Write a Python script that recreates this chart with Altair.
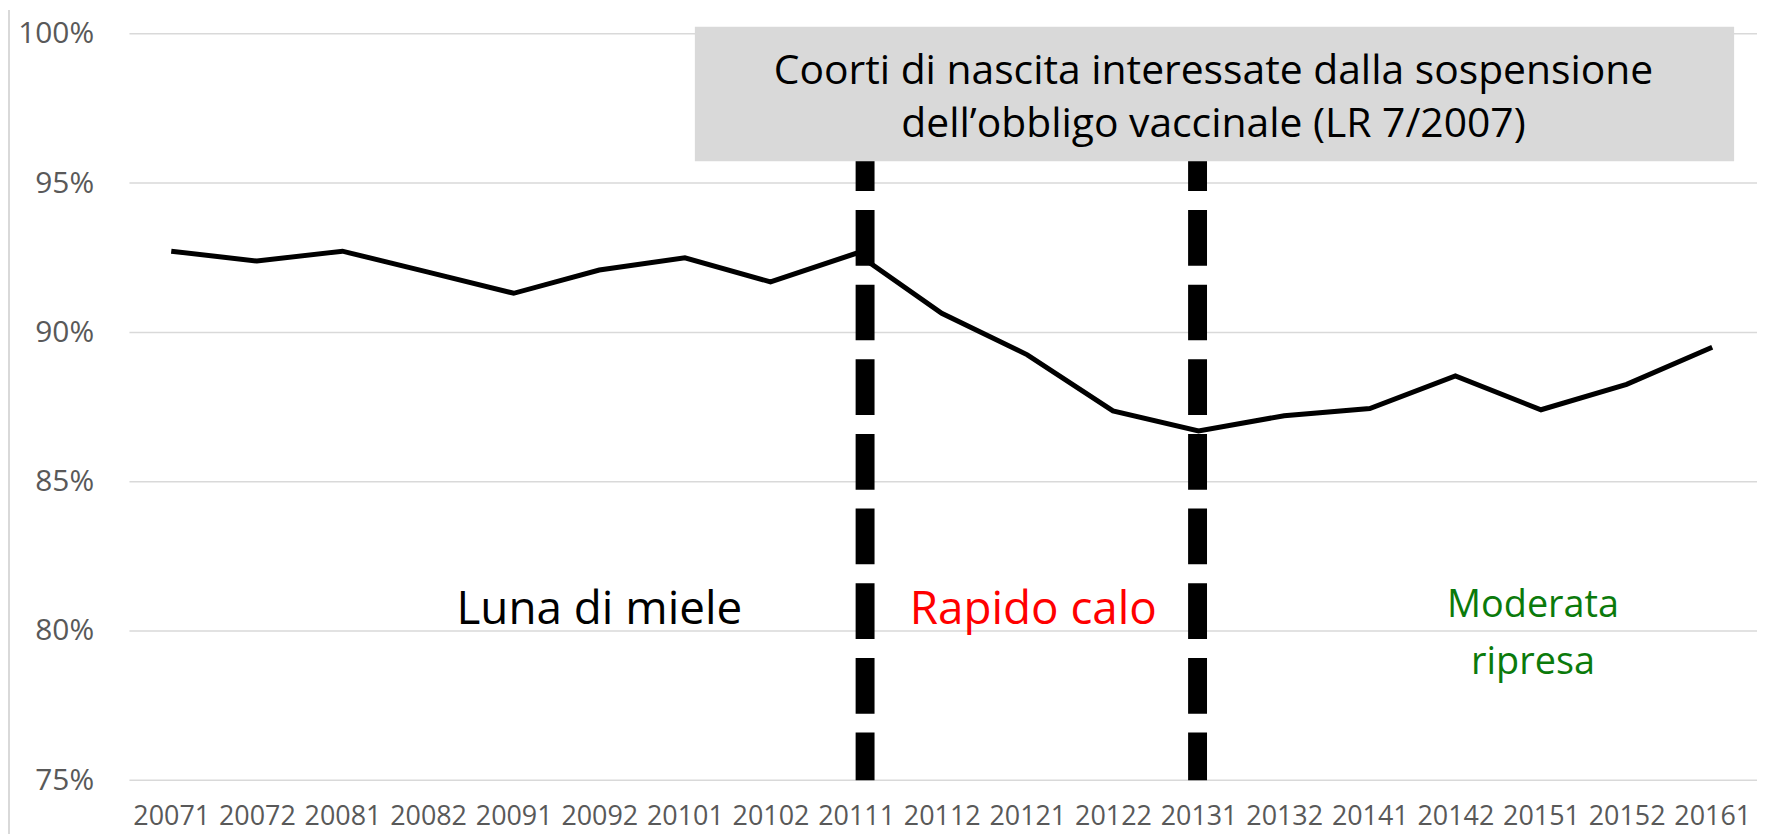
import altair as alt
import pandas as pd

# ---- data ----
periods = ["20071", "20072", "20081", "20082", "20091", "20092", "20101", "20102",
           "20111", "20112", "20121", "20122", "20131", "20132", "20141", "20142",
           "20151", "20152", "20161"]
coverage = [92.72, 92.39, 92.72, 92.02, 91.31, 92.09, 92.50, 91.69, 92.65, 90.64,
            89.25, 87.37, 86.70, 87.21, 87.45, 88.54, 87.41, 88.26, 89.50]

break_periods = ["20111", "20131"]
break_top = [100, 100]
break_bottom = [75, 75]

phase_text = ["Luna di miele", "Rapido calo", "Moderata\nripresa"]
phase_period = ["20092", "20121", "20151"]
phase_y = [80.22, 80.22, 80.47]

box_text = ["Coorti di nascita interessate dalla sospensione\ndell\u2019obbligo vaccinale (LR 7/2007)"]

y_ticks = [75, 80, 85, 90, 95, 100]

FONT = "Open Sans"
W, H = 1635, 750

line_df = pd.DataFrame({"period": periods, "value": coverage})
break_df = pd.DataFrame({"period": break_periods, "top": break_top, "bottom": break_bottom})
phase_df = pd.DataFrame({"period": phase_period, "y": phase_y, "label": phase_text})
box_df = pd.DataFrame({"label": box_text})
tick_df = pd.DataFrame({"tick": y_ticks})

xscale = alt.Scale(type="point", domain=periods, range=[42, 1590], padding=0)
yscale = alt.Scale(domain=[75, 100], nice=False, zero=False)


def X():
    return alt.X("period:O", scale=xscale, sort=periods,
                 axis=alt.Axis(title=None, labelAngle=0, domain=False, ticks=False,
                               grid=False, labelPadding=23, labelFontSize=27,
                               labelFont=FONT, labelColor="#595959"))


yaxis = alt.Axis(title=None, values=y_ticks, labelExpr="datum.value + '%'",
                 domain=False, ticks=False, grid=False, labelPadding=36,
                 labelFontSize=30, labelFont=FONT, labelColor="#595959")

grid = alt.Chart(tick_df).mark_rule(color="#d9d9d9", strokeWidth=1.5).encode(
    y=alt.Y("tick:Q", scale=yscale, axis=yaxis),
    x=alt.value(0), x2=alt.value(W),
)

border = alt.Chart(box_df).mark_rule(color="#d9d9d9", strokeWidth=2).encode(
    x=alt.value(-121), y=alt.value(-24), y2=alt.value(H + 54)
)

rule_offsets = [9, -1]
rule_layers = []
for i in range(len(break_periods)):
    rule_layers.append(
        alt.Chart(break_df.iloc[[i]]).mark_rule(
            color="black", strokeWidth=19, strokeDash=[56, 19], strokeDashOffset=48
        ).encode(
            x=X(),
            xOffset=alt.value(rule_offsets[i]),
            y=alt.Y("top:Q", scale=yscale, axis=yaxis),
            y2="bottom:Q",
        )
    )

box = alt.Chart(box_df).mark_rect(color="#d9d9d9").encode(
    x=alt.value(568), x2=alt.value(1612), y=alt.value(-7), y2=alt.value(128)
)

box_label = alt.Chart(box_df).mark_text(
    font=FONT, fontSize=41, color="black", align="center", baseline="middle",
    lineBreak="\n", lineHeight=54
).encode(x=alt.value(1089), y=alt.value(38), text="label:N")

line = alt.Chart(line_df).mark_line(color="black", strokeWidth=5).encode(
    x=X(),
    y=alt.Y("value:Q", scale=yscale, axis=yaxis),
)

phase_colors = ["#000000", "#ff0000", "#0b7a0b"]
phase_sizes = [46, 46, 38]
phase_dx = [0, 6, -8]
phase_layers = []
for i in range(len(phase_text)):
    phase_layers.append(
        alt.Chart(phase_df.iloc[[i]]).mark_text(
            font=FONT, fontSize=phase_sizes[i], color=phase_colors[i], align="center",
            baseline="alphabetic", lineBreak="\n", lineHeight=57, dx=phase_dx[i]
        ).encode(
            x=X(),
            y=alt.Y("y:Q", scale=yscale, axis=yaxis),
            text="label:N",
        )
    )

chart = alt.layer(grid, border, *rule_layers, box, box_label, line, *phase_layers).properties(
    width=W, height=H,
    autosize=alt.AutoSizeParams(type="none"),
    padding={"left": 122, "top": 24, "right": 0, "bottom": 53},
).configure_view(stroke=None)

chart.save("out.html", embed_options={"renderer": "svg", "actions": False})
